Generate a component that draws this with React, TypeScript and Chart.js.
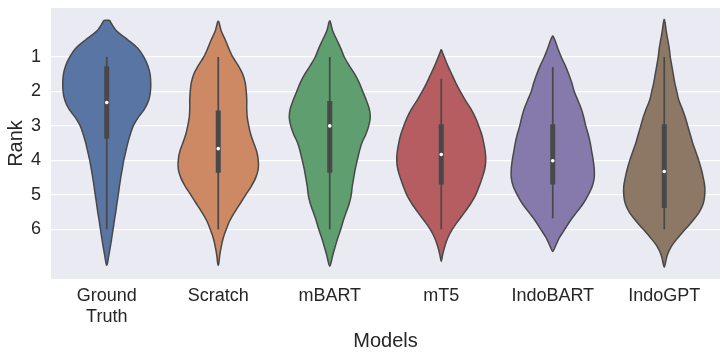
import { useEffect, useRef } from 'react';
import { Chart, registerables } from 'chart.js';

Chart.register(...registerables);

// ---- data ----
const categories = ['Ground\nTruth', 'Scratch', 'mBART', 'mT5', 'IndoBART', 'IndoGPT'];
const rankTicks = [1, 2, 3, 4, 5, 6];

// ranks at which the violin half-widths (kernel density, arbitrary units) were read
const densityRanks = [
  0, 0.25, 0.5, 0.75, 1, 1.25, 1.5, 1.75, 2, 2.25, 2.5, 2.75, 3, 3.25, 3.5,
  3.75, 4, 4.25, 4.5, 4.75, 5, 5.25, 5.5, 5.75, 6, 6.25, 6.5, 6.75, 7,
];
const densityGroundTruth = [
  4, 10, 21, 31, 37, 41, 43.3, 44, 43.7, 42, 38, 31.5, 26.5, 23.5, 21,
  19, 17, 15.5, 14, 12.7, 11.5, 10.2, 9, 7.6, 6.3, 5, 3.6, 2.1, 0.6,
];
const densityScratch = [
  0.8, 3, 7, 10.5, 14.5, 20, 24.5, 27, 28, 28.5, 28.5, 29, 30.5, 32.5, 35.5,
  38.5, 40, 40, 37.5, 33, 27.5, 22, 16.5, 11.5, 8, 5, 3, 1.5, 0.5,
];
const densityMBART = [
  0.8, 3, 7, 11, 14.5, 19.5, 25, 29.5, 33, 36.5, 39.5, 40.5, 39, 36, 32,
  29.5, 27.5, 25.5, 24, 22.5, 21.5, 19.5, 16.5, 13.5, 11, 8, 5.5, 3, 1,
];
const densityMT5 = [
  null, null, null, null, 3, 6.5, 10.5, 14.5, 19, 24, 29.5, 34, 37.5, 40.5, 42.5,
  44, 44.5, 43.5, 41, 38, 34.5, 29.5, 23.5, 17, 11, 6.5, 3.5, 1.3, null,
];
const densityIndoBART = [
  null, null, 2, 5, 8.5, 12.5, 16, 19, 21.5, 25, 28.5, 31, 33, 35.5, 37.5,
  39, 40.5, 41.5, 41.5, 39.5, 35.5, 30.5, 24, 17.5, 12, 6.5, 2.5, null, null,
];
const densityIndoGPT = [
  0.8, 2, 3.5, 5, 6, 7.5, 9, 10.5, 12.5, 14.5, 18, 21, 23.5, 26, 28.5,
  31.5, 34.5, 37, 39, 40.5, 40.5, 39, 35, 28.5, 21, 13.5, 7, 3, 1,
];
const densities = [
  densityGroundTruth, densityScratch, densityMBART, densityMT5, densityIndoBART, densityIndoGPT,
];
const violinTop = [-0.06, -0.05, -0.06, 0.78, 0.38, -0.1];
const violinTopDensity = [3, 0, 0, 0, 0, 0];
const violinBottom = [7.04, 7.04, 7.07, 6.93, 6.64, 7.1];

const whiskerLow = [1, 1, 1, 1.63, 1.29, 1];
const whiskerHigh = [6, 6, 6, 6, 5.68, 6];
const quartile1 = [1.27, 2.55, 2.28, 2.95, 2.95, 2.95];
const quartile3 = [3.37, 4.36, 4.36, 4.7, 4.7, 5.38];
const medians = [2.32, 3.66, 3.0, 3.83, 4.01, 4.32];

// ---- styles ----
const violinColors = ['#5975a4', '#cc8963', '#5f9e6e', '#b55d60', '#857aab', '#8d7866'];
const LINE_GRAY = '#484848';
const TEXT = '#262626';
const FONT = '"Liberation Sans", Arial, Helvetica, sans-serif';
const DENSITY_TO_WIDTH = 0.4 / 44.6; // widest violin spans 0.8 of a category

export default function App() {
  const ref = useRef<HTMLCanvasElement | null>(null);

  useEffect(() => {
    document.body.style.margin = '0';
    const canvas = ref.current;
    if (!canvas) return;

    const violinSets: any[] = [];
    const whiskerSets: any[] = [];
    const boxSets: any[] = [];
    const medianPoints: any[] = [];

    categories.forEach((_, i) => {
      const c = i + 0.5;
      const pts: [number, number][] = [[violinTop[i], violinTopDensity[i]]];
      densityRanks.forEach((r, k) => {
        const d = densities[i][k];
        if (d != null && r > violinTop[i] && r < violinBottom[i]) pts.push([r, d]);
      });
      pts.push([violinBottom[i], 0]);
      const left = pts.map(([r, d]) => ({ x: c - d * DENSITY_TO_WIDTH, y: r }));
      const right = pts
        .slice(0, -1)
        .reverse()
        .map(([r, d]) => ({ x: c + d * DENSITY_TO_WIDTH, y: r }));
      const data = [...left, ...right];
      if (violinTopDensity[i] > 0) data.push({ ...left[0] });

      violinSets.push({
        type: 'line',
        data,
        borderColor: LINE_GRAY,
        borderWidth: 1.5,
        backgroundColor: violinColors[i],
        fill: 'shape',
        tension: 0.3,
        pointRadius: 0,
        pointHoverRadius: 0,
        order: 3,
      });
      whiskerSets.push({
        type: 'line',
        data: [
          { x: c, y: whiskerLow[i] },
          { x: c, y: whiskerHigh[i] },
        ],
        borderColor: LINE_GRAY,
        borderWidth: 1.7,
        borderCapStyle: 'butt',
        fill: false,
        pointRadius: 0,
        order: 2,
      });
      boxSets.push({
        type: 'line',
        data: [
          { x: c, y: quartile1[i] },
          { x: c, y: quartile3[i] },
        ],
        borderColor: LINE_GRAY,
        borderWidth: 5,
        borderCapStyle: 'butt',
        fill: false,
        pointRadius: 0,
        order: 1,
      });
      medianPoints.push({ x: c, y: medians[i] });
    });

    const bgPlugin = {
      id: 'plotBackground',
      beforeDraw(chart: any) {
        const { ctx, chartArea: a } = chart;
        ctx.save();
        ctx.fillStyle = '#eaeaf2';
        ctx.fillRect(a.left, a.top, a.right - a.left, a.bottom - a.top);
        ctx.restore();
      },
    };

    const chart = new Chart(canvas, {
      type: 'line',
      data: {
        datasets: [
          {
            type: 'scatter',
            data: medianPoints,
            pointRadius: 1.8,
            pointBackgroundColor: '#ffffff',
            pointBorderWidth: 0,
            showLine: false,
            order: 0,
          } as any,
          ...boxSets,
          ...whiskerSets,
          ...violinSets,
        ],
      },
      options: {
        animation: false,
        responsive: false,
        devicePixelRatio: 1,
        events: [],
        layout: { padding: { top: 8, right: 7, bottom: 0, left: 0 } },
        plugins: { legend: { display: false }, tooltip: { enabled: false } },
        scales: {
          x: {
            type: 'linear',
            min: 0,
            max: categories.length,
            afterBuildTicks: (s: any) => {
              s.ticks = categories.map((_, i) => ({ value: i + 0.5 }));
            },
            afterFit: (s: any) => {
              s.height = 78;
              s.paddingLeft = 0;
              s.paddingRight = 0;
            },
            ticks: {
              autoSkip: false,
              maxRotation: 0,
              padding: 6,
              color: TEXT,
              font: { family: FONT, size: 18 },
              callback: (_v: any, idx: number) => categories[idx].split('\n'),
            },
            grid: { display: false, drawTicks: false },
            border: { display: false },
            title: {
              display: true,
              text: 'Models',
              color: TEXT,
              font: { family: FONT, size: 20 },
              padding: { top: 0, bottom: 4 },
            },
          },
          y: {
            type: 'linear',
            min: -0.42,
            max: 7.44,
            reverse: true,
            afterBuildTicks: (s: any) => {
              s.ticks = rankTicks.map((v) => ({ value: v }));
            },
            afterFit: (s: any) => {
              s.width = 51;
              s.paddingTop = 0;
              s.paddingBottom = 0;
            },
            ticks: {
              padding: 10,
              color: TEXT,
              font: { family: FONT, size: 18 },
              callback: (v: any) => String(v),
            },
            grid: { color: '#ffffff', lineWidth: 1.3, drawTicks: false },
            border: { display: false },
            title: {
              display: true,
              text: 'Rank',
              color: TEXT,
              font: { family: FONT, size: 20 },
              padding: { top: 4, bottom: 0 },
            },
          },
        },
      } as any,
      plugins: [bgPlugin],
    });

    return () => chart.destroy();
  }, []);

  return (
    <div style={{ width: 727, height: 357, overflow: 'hidden' }}>
      <canvas ref={ref} width={727} height={357} />
    </div>
  );
}
